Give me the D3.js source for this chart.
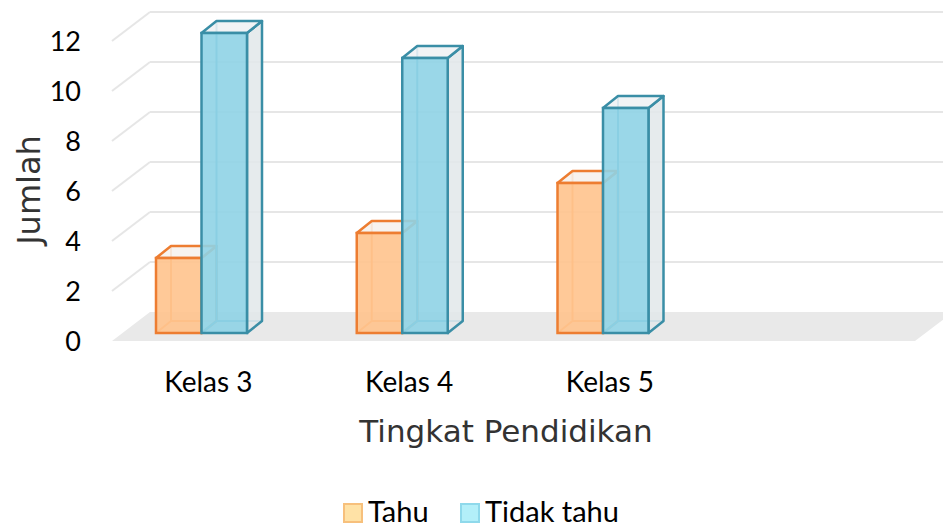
<!DOCTYPE html>
<html>
<head>
<meta charset="utf-8">
<script src="https://cdn.jsdelivr.net/npm/d3@7"></script>
<style>
  body { margin: 0; background: #fff; }
  svg { display: block; }
</style>
</head>
<body>
<div id="chart"></div>
<script>
// data
const categories = ["Kelas 3", "Kelas 4", "Kelas 5"];
const seriesNames = ["Tahu", "Tidak tahu"];
const tahu = [3, 4, 6];
const tidakTahu = [12, 11, 9];
const yTicks = [0, 2, 4, 6, 8, 10, 12];

const W = 943, H = 527;
// 3d look: offset from front edge of floor to back wall
const depth = { x: 38, y: -29 };
const barPlane = { x: 10, y: -8 };
const barDepth = { x: 15, y: -12 };

const colors = {
  "Tahu": { stroke: "#ed7d31", hidden: "#f5a060", front: "#ffc38d", side: "#f3ede6", top: "#f6f1ec", legFill: "#ffe2a6", legStroke: "#f7c07c" },
  "Tidak tahu": { stroke: "#3a8ea6", hidden: "#5db1c7", front: "#8fd3e5", side: "#e2e7ea", top: "#eef1f3", legFill: "#b3eff9", legStroke: "#8fd9eb" }
};

const data = categories.map((c, i) => ({
  name: c,
  values: [
    { key: "Tahu", value: tahu[i] },
    { key: "Tidak tahu", value: tidakTahu[i] }
  ]
}));

// scales (front plane of the floor); one empty slot on the right
const x = d3.scaleBand().domain([...categories, ""]).range([112, 915]);
const xInner = d3.scaleBand().domain(seriesNames).range([34, 125]);
const y = d3.scaleLinear().domain([0, 12]).range([341, 41]);

const svg = d3.select("#chart").append("svg")
  .attr("width", W).attr("height", H);

// back wall gridlines + left diagonals
const grid = svg.append("g").attr("class", "grid");
yTicks.filter(t => t > 0).forEach(t => {
  grid.append("line")
    .attr("x1", x.range()[0]).attr("y1", y(t))
    .attr("x2", x.range()[0] + depth.x).attr("y2", y(t) + depth.y);
  grid.append("line")
    .attr("x1", x.range()[0] + depth.x).attr("y1", y(t) + depth.y)
    .attr("x2", W).attr("y2", y(t) + depth.y);
});
grid.selectAll("line").attr("stroke", "#e6e6e6").attr("stroke-width", 2);

// floor
const f0 = x.range()[0], f1 = x.range()[1], fy = y(0);
svg.append("path")
  .attr("d", d3.line()([[f0, fy], [f1, fy], [f1 + depth.x, fy + depth.y], [f0 + depth.x, fy + depth.y]]) + "Z")
  .attr("fill", "#e9e9e9");

// bars as see-through boxes
const groups = svg.append("g").selectAll("g")
  .data(data)
  .join("g");

const line = d3.line();
groups.each(function (d) {
  const g = d3.select(this);
  d.values.forEach(v => {
    const c = colors[v.key];
    const x0 = x(d.name) + xInner(v.key) + barPlane.x;
    const x1 = x0 + xInner.bandwidth();
    const yb = y(0) + barPlane.y;
    const yt = y(v.value) + barPlane.y;
    const dx = barDepth.x, dy = barDepth.y;

    // hidden back edges
    g.append("path")
      .attr("d", line([[x0, yb], [x0 + dx, yb + dy], [x1 + dx, yb + dy]]) + "M" + (x0 + dx) + "," + (yb + dy) + "L" + (x0 + dx) + "," + (yt + dy))
      .attr("fill", "none").attr("stroke", c.hidden).attr("stroke-width", 2);
    // right side
    g.append("path")
      .attr("d", line([[x1, yb], [x1 + dx, yb + dy], [x1 + dx, yt + dy], [x1, yt]]) + "Z")
      .attr("fill", c.side).attr("fill-opacity", 0.85)
      .attr("stroke", c.stroke).attr("stroke-width", 2.5).attr("stroke-linejoin", "round");
    // top
    g.append("path")
      .attr("d", line([[x0, yt], [x1, yt], [x1 + dx, yt + dy], [x0 + dx, yt + dy]]) + "Z")
      .attr("fill", c.top).attr("fill-opacity", 0.85)
      .attr("stroke", c.stroke).attr("stroke-width", 2.5).attr("stroke-linejoin", "round");
    // front
    g.append("rect")
      .attr("x", x0).attr("y", yt)
      .attr("width", x1 - x0).attr("height", yb - yt)
      .attr("fill", c.front).attr("fill-opacity", 0.9)
      .attr("stroke", c.stroke).attr("stroke-width", 2.5);
  });
});

// y axis labels
svg.append("g").selectAll("text")
  .data(yTicks)
  .join("text")
  .attr("x", 81).attr("y", d => y(d))
  .attr("dy", "0.36em")
  .attr("text-anchor", "end")
  .style("font", "27px Lato")
  .attr("fill", "#000")
  .text(d => d);

// category labels
svg.append("g").selectAll("text")
  .data(categories)
  .join("text")
  .attr("x", d => x(d) + x.bandwidth() / 2 - 4)
  .attr("y", 392)
  .attr("text-anchor", "middle")
  .style("font", "28px Lato")
  .attr("fill", "#000")
  .text(d => d);

// axis titles
svg.append("text")
  .attr("x", 506).attr("y", 442)
  .attr("text-anchor", "middle")
  .style("font", "31px 'DejaVu Sans'")
  .attr("fill", "#333")
  .text("Tingkat Pendidikan");

svg.append("text")
  .attr("transform", "translate(40,190) rotate(-90)")
  .attr("text-anchor", "middle")
  .style("font", "32px 'DejaVu Sans'")
  .attr("fill", "#333")
  .text("Jumlah");

// legend
const legendX = [343, 460];
const legend = svg.append("g").selectAll("g")
  .data(seriesNames)
  .join("g")
  .attr("transform", (d, i) => "translate(" + legendX[i] + ",503)");
legend.append("rect")
  .attr("x", 1).attr("y", 1).attr("width", 18).attr("height", 18)
  .attr("fill", d => colors[d].legFill)
  .attr("stroke", d => colors[d].legStroke).attr("stroke-width", 2);
legend.append("text")
  .attr("x", 25).attr("y", 19)
  .style("font", "29px Lato")
  .attr("fill", "#000")
  .text(d => d);
</script>
</body>
</html>
